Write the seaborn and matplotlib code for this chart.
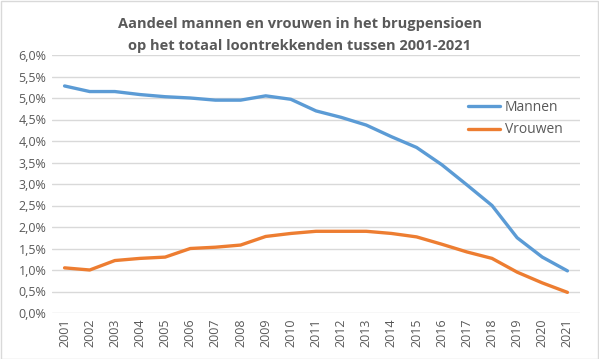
import pandas as pd
import matplotlib.pyplot as plt
import seaborn as sns
from matplotlib.ticker import FuncFormatter, MultipleLocator

years = list(range(2001, 2022))
mannen = [5.28, 5.15, 5.15, 5.08, 5.03, 5.00, 4.95, 4.95, 5.05, 4.97, 4.70,
          4.55, 4.37, 4.10, 3.85, 3.45, 2.98, 2.50, 1.75, 1.30, 0.98]
vrouwen = [1.05, 1.00, 1.22, 1.27, 1.30, 1.50, 1.53, 1.58, 1.78, 1.85, 1.90,
           1.90, 1.90, 1.85, 1.77, 1.60, 1.42, 1.27, 0.95, 0.70, 0.48]

df = pd.DataFrame({
    'jaar': list(range(len(years))) * 2,
    'aandeel': mannen + vrouwen,
    'groep': ['Mannen'] * len(years) + ['Vrouwen'] * len(years),
})

sns.set_style('white')
plt.rcParams['font.family'] = ['Open Sans', 'DejaVu Sans']
grey = '#595959'

fig = plt.figure(figsize=(5.99, 3.59), dpi=100)
ax = fig.add_axes([52 / 599, 1 - 313 / 359, 528 / 599, 258 / 359])

sns.lineplot(data=df, x='jaar', y='aandeel', hue='groep',
             palette=['#5B9BD5', '#ED7D31'], linewidth=2.4, ax=ax)

ax.set_xlim(-0.5, len(years) - 0.5)
ax.set_ylim(0, 6.0)
ax.yaxis.set_major_locator(MultipleLocator(0.5))
ax.yaxis.set_major_formatter(FuncFormatter(lambda v, p: f'{v:.1f}%'.replace('.', ',')))
ax.set_xticks(range(len(years)))
ax.set_xticklabels([str(y) for y in years], rotation=90)
ax.tick_params(axis='both', labelsize=9, colors=grey, length=0, pad=4)
ax.grid(axis='y', color='#D9D9D9', linewidth=1)
ax.set_axisbelow(True)
for s in ax.spines.values():
    s.set_visible(False)
ax.set_xlabel('')
ax.set_ylabel('')

leg = ax.legend(loc='upper left', bbox_to_anchor=(0.765, 0.875), frameon=False,
                fontsize=10, handlelength=2.3, handletextpad=0.3,
                labelspacing=0.55)
for t in leg.get_texts():
    t.set_color(grey)

fig.text(0.5, 1 - 24 / 359, 'Aandeel mannen en vrouwen in het brugpensioen',
         ha='center', va='center', fontsize=10.5, fontweight='bold', color=grey)
fig.text(0.5, 1 - 46 / 359, 'op het totaal loontrekkenden tussen 2001-2021',
         ha='center', va='center', fontsize=10.5, fontweight='bold', color=grey)

fig.patches.append(plt.Rectangle((0.001, 0.001), 0.997, 0.997, transform=fig.transFigure,
                                 fill=False, edgecolor='#D9D9D9', linewidth=1))

fig.savefig('out.png', dpi=100)
